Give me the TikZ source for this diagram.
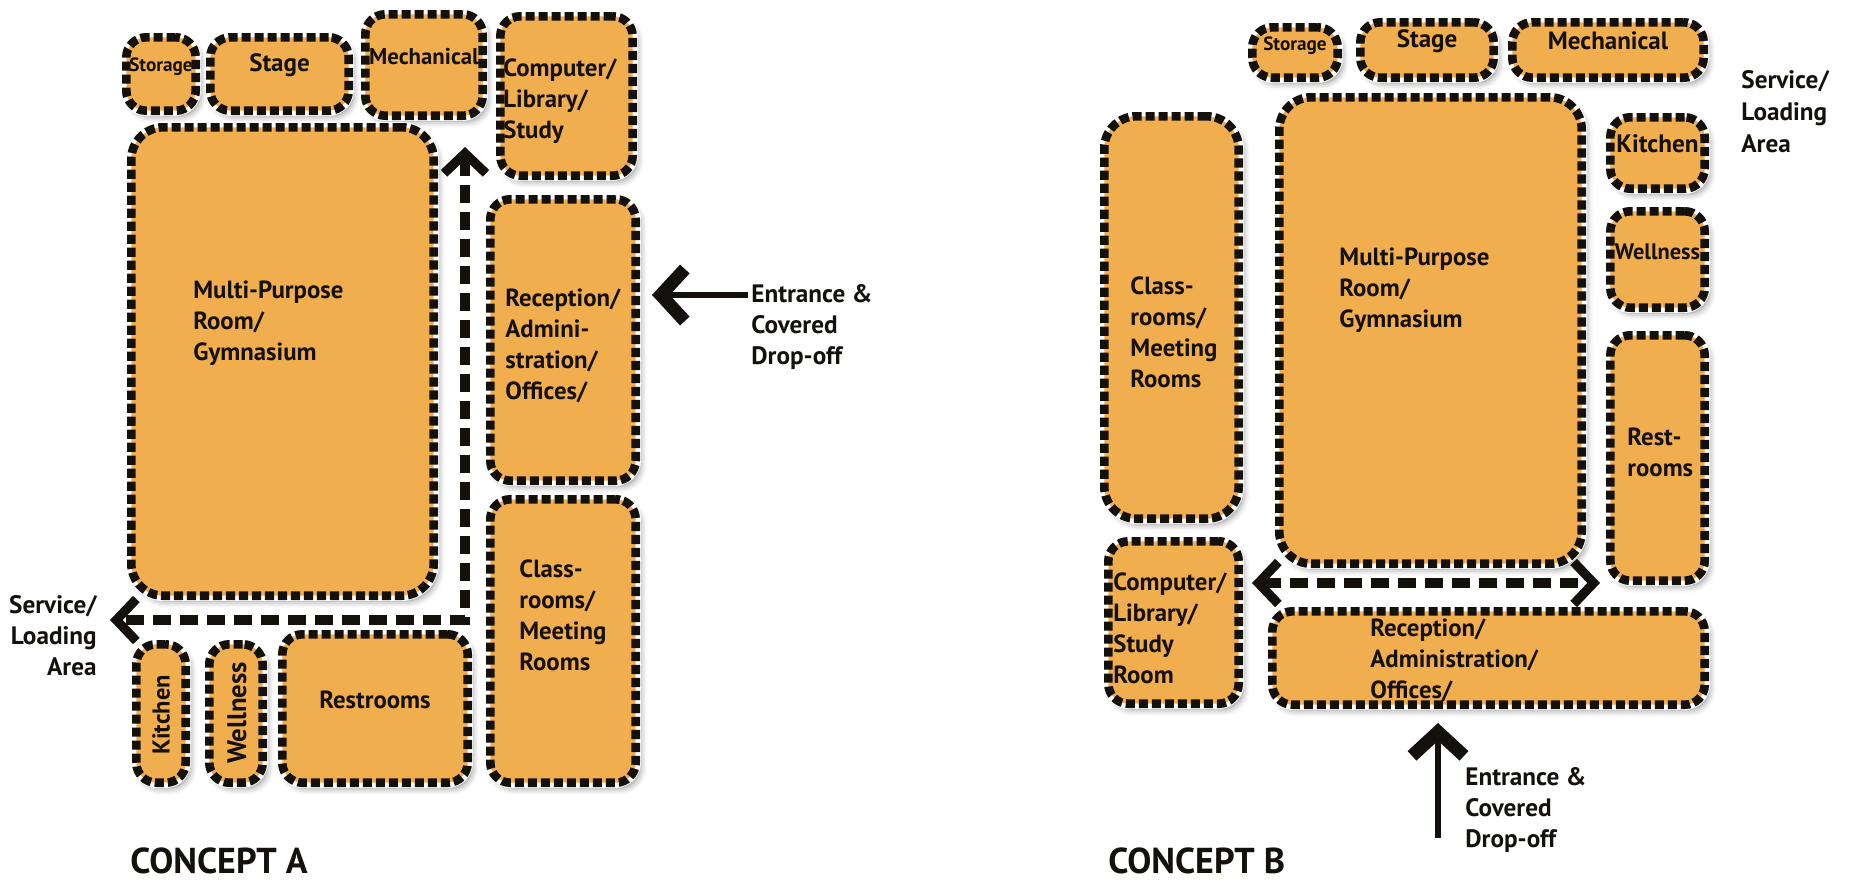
\documentclass[tikz,border=0pt]{standalone}
\usepackage{fontspec}
\setmainfont{PT Sans}
\usetikzlibrary{arrows.meta,fit,shadows.blur}
\definecolor{roomfill}{RGB}{241,174,78}
\definecolor{ink}{RGB}{20,16,12}
\newcommand\lblfont[1]{\bfseries\fontsize{#1}{15.5}\selectfont}
\begin{document}
\begin{tikzpicture}[x=0.5pt,y=-0.5pt,
  room/.style={draw=ink, fill=roomfill, line width=4.3pt, dash pattern=on 4.6pt off 1.9pt,
    rounded corners=10pt, inner sep=-2.15pt, text=ink,
    font=\lblfont{12},
    blur shadow={shadow xshift=2pt, shadow yshift=-2.5pt, shadow blur radius=3.5pt, shadow opacity=50},
    preaction={draw=white, solid, line width=5.2pt}},
  big/.style={rounded corners=16pt},
  lbl/.style={font=\lblfont{12.4}, text=ink, align=left, inner sep=0pt},
  note/.style={font=\bfseries\fontsize{12.6}{15.5}\selectfont, text=ink, align=left, inner sep=0pt},
  flow/.style={draw=ink, line width=4.6pt, dash pattern=on 9pt off 4.5pt, line cap=butt},
  barb/.tip={Straight Barb[length=10pt, width=21pt, line width=4.6pt]},
  entry/.style={draw=ink, line width=2.6pt, -{Straight Barb[length=12pt, width=26pt, line width=6.5pt]}}
]
\useasboundingbox (0,0) rectangle (1853,880);

% ---------------- CONCEPT A ----------------
\node[room, fit={(122,33) (200,115)}, font=\lblfont{9.6}] (storA) {Storage};
\node[room, fit={(206,33) (353,115)}, font=\lblfont{12.5}] (stageA) {Stage};
\node[room, fit={(361,10) (487,120)}, font=\lblfont{11.4}] (mechA) {Mechanical};
\node[room, fit={(496,12) (637,180)}] (compA) {};
\node[room, big, fit={(127,123) (438,600)}] (mpA) {};
\node[room, fit={(486,195) (640,485)}] (recA) {};
\node[room, fit={(486,495) (640,787)}] (clsA) {};
\node[room, fit={(132,640) (190,787)}] (kitA) {};
\node[room, fit={(205,640) (267,787)}] (welA) {};
\node[room, fit={(278,630) (472,787)}, font=\lblfont{12.4}] (restA) {Restrooms};

\node[lbl, anchor=west] (compAt) at (503,101) {Computer/\\Library/\\Study};
\node[lbl, anchor=west] (recAt) at (505,346) {Reception/\\Admini-\\stration/\\Offices/};
\node[lbl, anchor=west] (mpAt) at (193,323) {Multi-Purpose\\Room/\\Gymnasium};
\node[lbl, anchor=west] (clsAt) at (519,615) {Class-\\rooms/\\Meeting\\Rooms};
\node[lbl, rotate=90, font=\lblfont{12.2}] (kitAt) at (161,715) {Kitchen};
\node[lbl, rotate=90, font=\lblfont{13.4}] (welAt) at (237,713) {Wellness};

\coordinate (upA) at (465,147);
\coordinate (cornerA) at (465,620);
\coordinate (leftA) at (110,620);
\draw[flow, barb-barb] (upA) -- (cornerA) -- (leftA);

\coordinate (entAs) at (748,295);
\coordinate (entAe) at (652,295);
\draw[entry] (entAs) -- (entAe);
\node[note, anchor=west] (entAt) at (751,327) {Entrance \&\\Covered\\Drop-off};
\node[note, anchor=east, align=right] (svcAt) at (97,636) {Service/\\Loading\\Area};
\node[note, anchor=base west, font=\bfseries\fontsize{18}{20}\selectfont] (conA) at (130,873) {CONCEPT A};

% ---------------- CONCEPT B ----------------
\node[room, fit={(1248,23) (1342,82)}, font=\lblfont{9.6}] (storB) {Storage};
\node[room, fit={(1356,18) (1498,82)}, font=\lblfont{12.5}] (stageB) {Stage};
\node[room, fit={(1508,18) (1708,82)}, font=\lblfont{12.5}] (mechB) {Mechanical};
\node[room, big, fit={(1100,112) (1243,523)}] (clsB) {};
\node[room, big, fit={(1275,93) (1586,568)}] (mpB) {};
\node[room, fit={(1606,113) (1709,193)}, font=\lblfont{12.6}] (kitB) {Kitchen};
\node[room, fit={(1606,207) (1709,312)}, font=\lblfont{11.2}] (welB) {Wellness};
\node[room, fit={(1606,331) (1709,585)}] (restB) {};
\node[room, fit={(1104,537) (1243,708)}] (compB) {};
\node[room, fit={(1268,607) (1709,709)}] (recB) {};

\node[lbl, anchor=west] (clsBt) at (1130,332) {Class-\\rooms/\\Meeting\\Rooms};
\node[lbl, anchor=west] (mpBt) at (1339,290) {Multi-Purpose\\Room/\\Gymnasium};
\node[lbl, anchor=west] (restBt) at (1627,452) {Rest-\\rooms};
\node[lbl, anchor=west] (compBt) at (1113,628) {Computer/\\Library/\\Study\\Room};
\node[lbl, anchor=west] (recBt) at (1370,660) {Reception/\\Administration/\\Offices/};

\coordinate (lB) at (1252,583);
\coordinate (rB) at (1600,583);
\draw[flow, barb-barb] (lB) -- (rB);

\coordinate (entBs) at (1438,838);
\coordinate (entBe) at (1438,723);
\draw[entry] (entBs) -- (entBe);
\node[note, anchor=west] (entBt) at (1465,810) {Entrance \&\\Covered\\Drop-off};
\node[note, anchor=west, font=\bfseries\fontsize{12.6}{16}\selectfont] (svcBt) at (1741,112) {Service/\\Loading\\Area};
\node[note, anchor=base west, font=\bfseries\fontsize{18}{20}\selectfont] (conB) at (1108,873) {CONCEPT B};
\end{tikzpicture}
\end{document}
